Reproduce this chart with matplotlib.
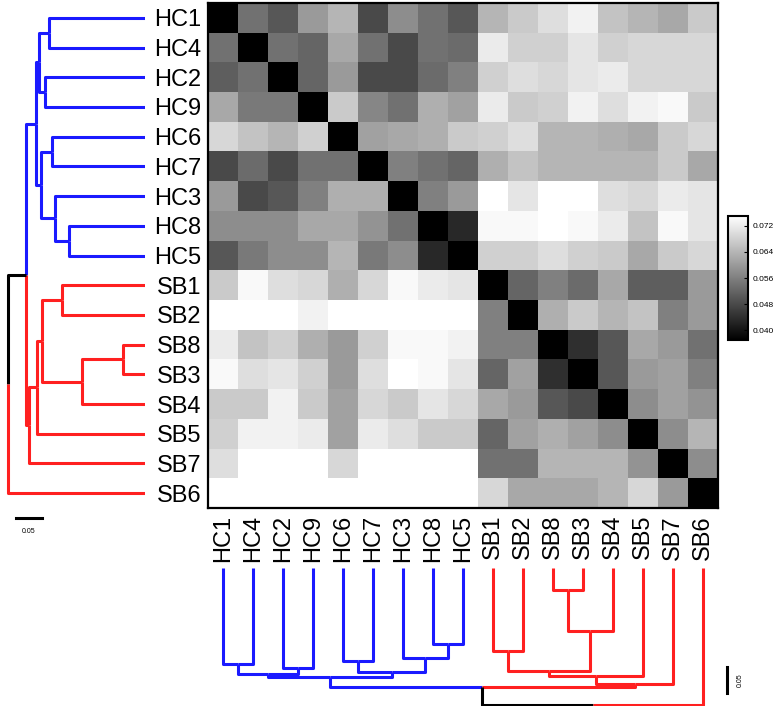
import numpy as np
import matplotlib
matplotlib.use("Agg")
import matplotlib.pyplot as plt

plt.rcParams['font.family'] = ['Liberation Sans', 'DejaVu Sans']

names = ['HC1', 'HC4', 'HC2', 'HC9', 'HC6', 'HC7', 'HC3', 'HC8', 'HC5',
         'SB1', 'SB2', 'SB8', 'SB3', 'SB4', 'SB5', 'SB7', 'SB6']

# distance matrix, rows/cols in the order above
dist = np.array([
    [0, .054, .050, .060, .064, .048, .058, .054, .050, .064, .067, .070, .073, .066, .064, .062, .067],
    [.054, 0, .054, .052, .062, .054, .048, .054, .053, .072, .068, .068, .071, .068, .069, .069, .069],
    [.051, .054, 0, .052, .060, .048, .048, .053, .056, .068, .070, .069, .071, .072, .069, .069, .069],
    [.062, .055, .055, 0, .067, .057, .054, .063, .061, .072, .067, .068, .073, .070, .073, .074, .067],
    [.069, .066, .064, .068, 0, .061, .062, .063, .067, .068, .070, .064, .064, .063, .062, .067, .069],
    [.048, .053, .048, .054, .054, 0, .056, .054, .052, .063, .066, .064, .064, .064, .064, .067, .062],
    [.060, .048, .050, .056, .063, .063, 0, .056, .060, .075, .071, .075, .075, .070, .069, .072, .071],
    [.058, .058, .058, .062, .062, .059, .054, 0, .043, .074, .074, .075, .074, .072, .066, .074, .071],
    [.050, .055, .058, .058, .064, .055, .058, .043, 0, .068, .068, .070, .068, .067, .062, .067, .069],
    [.067, .074, .070, .069, .063, .069, .074, .072, .071, 0, .052, .056, .053, .062, .051, .051, .060],
    [.075, .075, .075, .073, .075, .075, .075, .075, .075, .056, 0, .063, .067, .064, .066, .056, .060],
    [.072, .066, .068, .063, .060, .068, .074, .074, .073, .056, .056, 0, .044, .050, .062, .060, .054],
    [.074, .070, .071, .068, .060, .070, .075, .074, .071, .052, .061, .044, 0, .050, .060, .061, .056],
    [.067, .067, .073, .067, .061, .069, .067, .071, .069, .062, .060, .050, .048, 0, .058, .061, .059],
    [.068, .073, .073, .072, .061, .072, .070, .067, .067, .052, .061, .063, .061, .058, 0, .058, .064],
    [.070, .075, .075, .075, .069, .075, .075, .075, .075, .054, .054, .064, .064, .064, .059, 0, .058],
    [.075, .075, .075, .075, .075, .075, .075, .075, .075, .069, .062, .062, .062, .064, .069, .060, 0],
])

# tree: merge i creates node 17+i from children a, b at height h
link_a = [0, 2, 17, 4, 7, 6, 20, 19, 11, 25, 9, 27, 28, 29, 24, 31]
link_b = [1, 3, 18, 5, 8, 21, 22, 23, 12, 13, 10, 26, 14, 15, 30, 16]
link_h = [0.185, 0.192, 0.204, 0.179, 0.146, 0.173, 0.200, 0.210,
          0.042, 0.121, 0.160, 0.198, 0.208, 0.223, 0.228, 0.263]

cbar_ticks = [0.040, 0.048, 0.056, 0.064, 0.072]

BLUE = '#1a1aff'
RED = '#ff2020'

W, H = 783, 706
fig = plt.figure(figsize=(W / 100, H / 100), dpi=100)


def box(x0, y0, x1, y1):
    return [x0 / W, 1 - y1 / H, (x1 - x0) / W, (y1 - y0) / H]


# build node positions / heights / colours
n = len(names)
pos = [i + 0.5 for i in range(n)]
hgt = [0.0] * n
col = [BLUE if s.startswith('HC') else RED for s in names]
for a, b, h in zip(link_a, link_b, link_h):
    pos.append((pos[a] + pos[b]) / 2)
    hgt.append(h)
    col.append(col[a] if col[a] == col[b] else 'black')


def draw_tree(ax, horizontal):
    for k, (a, b, h) in enumerate(zip(link_a, link_b, link_h)):
        node = n + k
        for c in (a, b):
            p = [pos[c], pos[c], pos[node]]
            d = [hgt[c], h, h]
            if horizontal:
                ax.plot(d, p, color=col[c], lw=2.2, solid_capstyle='butt')
            else:
                ax.plot(p, d, color=col[c], lw=2.2, solid_capstyle='butt')
    ax.axis('off')


# heatmap
ax = fig.add_axes(box(208, 3, 718, 508))
im = ax.imshow(dist, cmap='gray', vmin=0.037, vmax=0.075, aspect='auto',
               interpolation='nearest', extent=(0, n, n, 0))
ax.set_xticks(np.arange(n) + 0.5)
ax.set_yticks(np.arange(n) + 0.5)
ax.set_xticklabels(names, rotation=90, fontsize=17)
ax.set_yticklabels(names, fontsize=17)
ax.tick_params(length=0, pad=5)
for s in ax.spines.values():
    s.set_linewidth(1.6)

# left dendrogram
axl = fig.add_axes(box(0, 3, 145, 508))
draw_tree(axl, True)
axl.set_xlim(145 / 521, 0)
axl.set_ylim(n, 0)
axl.plot([0.2476, 0.1976], [17.34, 17.34], color='black', lw=2.2, clip_on=False)
axl.text(0.2226, 17.8, '0.05', fontsize=5, ha='center', va='center')

# bottom dendrogram
axb = fig.add_axes(box(208, 568, 718, 706))
draw_tree(axb, False)
axb.set_xlim(0, n)
axb.set_ylim(138 / 521, 0)
axb.plot([17.3, 17.3], [0.19, 0.24], color='black', lw=2.2, clip_on=False)
axb.text(17.75, 0.215, '0.05', fontsize=5, rotation=90, ha='center', va='center')

# colorbar
cax = fig.add_axes(box(728, 216, 748, 340))
cb = fig.colorbar(im, cax=cax, ticks=cbar_ticks, format='%.3f')
cb.outline.set_linewidth(1.5)
cax.tick_params(labelsize=6, direction='in', length=3, pad=3)

fig.savefig('out.png', dpi=100)
